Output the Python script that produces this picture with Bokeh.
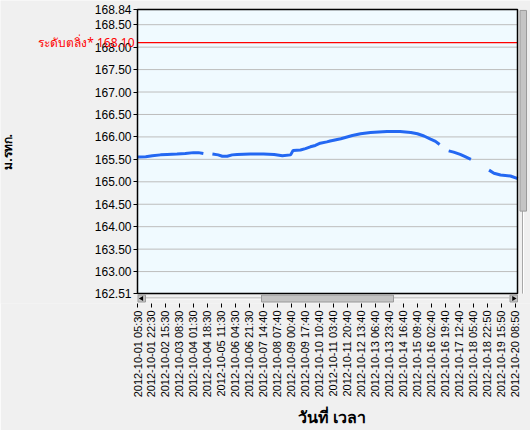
import math
from bokeh.plotting import figure
from bokeh.models import Range1d, FixedTicker, PrintfTickFormatter, Label, Title
from bokeh.embed import file_html
from bokeh.resources import INLINE

NaN = float("nan")

# ---------------- data ----------------
x_labels = [
    "2012-10-01 05:30", "2012-10-01 22:30", "2012-10-02 15:30", "2012-10-03 08:30",
    "2012-10-04 01:30", "2012-10-04 18:30", "2012-10-05 11:30", "2012-10-06 04:30",
    "2012-10-06 21:30", "2012-10-07 14:40", "2012-10-08 07:40", "2012-10-09 00:40",
    "2012-10-09 17:40", "2012-10-10 10:40", "2012-10-11 03:40", "2012-10-11 20:40",
    "2012-10-12 13:40", "2012-10-13 06:40", "2012-10-13 23:40", "2012-10-14 16:40",
    "2012-10-15 09:40", "2012-10-16 02:40", "2012-10-16 19:40", "2012-10-17 12:40",
    "2012-10-18 05:40", "2012-10-18 22:50", "2012-10-19 15:50", "2012-10-20 08:50",
]
label_step = 17          # readings between two labels
visible_points = 461.6   # readings shown in the scrolled window

hours = [0, 10, 18, 28, 36, 48, 58, 68, 74, 80, NaN,
         91, 98, 103, 109, 115, 121, 137, 153, 166, 176, 186, 189, 198, 204, 210,
         216, 222, 230, 234, 247, 261, 271, 283, 303, 319, 332, 340, 348, 356, 362,
         367, NaN,
         378, 384, 392, 398, 405, NaN,
         427, 433, 441, 453, 462]
levels = [165.55, 165.56, 165.58, 165.60, 165.61, 165.62, 165.63, 165.65, 165.65, 165.63, NaN,
          165.62, 165.60, 165.57, 165.57, 165.60, 165.61, 165.62, 165.62, 165.61, 165.58,
          165.60, 165.70, 165.71, 165.74, 165.78, 165.81, 165.86, 165.89, 165.91, 165.96,
          166.03, 166.07, 166.10, 166.12, 166.12, 166.10, 166.07, 166.02, 165.95, 165.90,
          165.83, NaN,
          165.69, 165.66, 165.61, 165.56, 165.50, NaN,
          165.26, 165.19, 165.15, 165.13, 165.07]

y_ticks = [168.84, 168.50, 168.00, 167.50, 167.00, 166.50, 166.00, 165.50,
           165.00, 164.50, 164.00, 163.50, 163.00, 162.51]
bank_level = 168.10
bank_text = "ระดับตลิ่ง* 168.10"
x_title = "วันที่ เวลา"
y_title = "ม.รทก."

# ---------------- layout ----------------
W, H = 530, 430
PL, PT = 137, 9     # left / top edge of plot area (px from canvas corner)
PLOT_H = 286        # cyan area height (px)
SCROLL_H = 10       # horizontal scrollbar height under plot (px)
FRAME_H = PT + PLOT_H + SCROLL_H
BB = H - FRAME_H
PLOT_W = 380        # cyan area width (px)
TITLE_X = 297       # left edge of x title (px)

y_top, y_bot = max(y_ticks), min(y_ticks)
upp = (y_top - y_bot) / PLOT_H            # value per px
xpp = visible_points / PLOT_W             # reading per px
x_start = -PL * xpp
x_end = (W - PL) * xpp
y_lo = y_bot - SCROLL_H * upp
y_hi = y_top + PT * upp

FONT = "Liberation Sans"
THAI = "Noto Sans"

p = figure(width=W, height=H, x_range=Range1d(x_start, x_end), y_range=Range1d(y_lo, y_hi),
           output_backend="svg", toolbar_location=None,
           min_border_left=0, min_border_right=0, min_border_top=0, min_border_bottom=BB)
p.border_fill_color = "#f0f0f0"
p.background_fill_color = "#f0f0f0"
p.outline_line_color = None
p.xgrid.visible = False
p.ygrid.visible = False

# plot area
p.quad(left=0, right=visible_points, bottom=y_bot, top=y_top,
       fill_color="#f0faff", line_color=None)
p.segment(x0=[0] * len(y_ticks), x1=[visible_points] * len(y_ticks),
          y0=y_ticks, y1=y_ticks, line_color="#bdbdbd", line_width=1)
p.segment(x0=[0], x1=[visible_points], y0=[bank_level], y1=[bank_level],
          line_color="#ff0000", line_width=1.2)
p.line(hours, levels, line_color="#2468f2", line_width=3)
p.quad(left=0, right=visible_points, bottom=y_bot, top=y_top,
       fill_color=None, line_color="#000000", line_width=1.5)

# horizontal scrollbar
def sy(d):
    return y_bot - d * upp

p.segment(x0=[8 * xpp], x1=[(PLOT_W - 8) * xpp], y0=[sy(4.5)], y1=[sy(4.5)],
          line_color="#a8a8a8", line_width=1)
p.segment(x0=[8 * xpp], x1=[(PLOT_W - 8) * xpp], y0=[sy(5.5)], y1=[sy(5.5)],
          line_color="#ffffff", line_width=1)
p.quad(left=[0.5 * xpp, 124 * xpp, (PLOT_W - 7.5) * xpp],
       right=[8 * xpp, 256 * xpp, PLOT_W * xpp],
       bottom=[sy(8.5)] * 3, top=[sy(1.5)] * 3,
       fill_color="#c4c4c4", line_color="#9a9a9a", line_width=1)
p.scatter(x=[4.2 * xpp], y=[sy(5)], marker="triangle", angle=math.pi / 2,
          size=5, fill_color="#000000", line_color=None)
p.scatter(x=[(PLOT_W - 3.8) * xpp], y=[sy(5)], marker="triangle", angle=-math.pi / 2,
          size=5, fill_color="#000000", line_color=None)

# vertical scrollbar (right)
p.segment(x0=[(PLOT_W + 5) * xpp], x1=[(PLOT_W + 5) * xpp],
          y0=[y_top - 200 * upp], y1=[y_bot], line_color="#a8a8a8", line_width=1)
p.segment(x0=[(PLOT_W + 6) * xpp], x1=[(PLOT_W + 6) * xpp],
          y0=[y_top - 200 * upp], y1=[y_bot], line_color="#ffffff", line_width=1)
p.quad(left=[(PLOT_W + 2.5) * xpp], right=[(PLOT_W + 9) * xpp],
       top=[y_top - 1 * upp], bottom=[y_top - 203 * upp],
       fill_color="#c4c4c4", line_color="#9a9a9a", line_width=1)

# axes
p.yaxis.fixed_location = 0
p.yaxis.ticker = FixedTicker(ticks=y_ticks)
p.yaxis.formatter = PrintfTickFormatter(format="%.2f")
p.yaxis.axis_line_color = None
p.yaxis.major_tick_in = 0
p.yaxis.major_tick_out = 4
p.yaxis.minor_tick_line_color = None
p.yaxis.major_tick_line_color = "#000000"
p.yaxis.major_label_standoff = 2
p.yaxis.major_label_text_font = FONT
p.yaxis.major_label_text_font_size = "12px"
p.yaxis.major_label_text_color = "#000000"
p.yaxis.axis_label = y_title
p.yaxis.axis_label_text_font = THAI
p.yaxis.axis_label_text_font_size = "12px"
p.yaxis.axis_label_text_font_style = "bold"
p.yaxis.axis_label_text_color = "#000000"
p.yaxis.axis_label_standoff = 76

x_ticks = [i * label_step for i in range(len(x_labels))]
p.xaxis.ticker = FixedTicker(ticks=x_ticks)
p.xaxis.major_label_overrides = {t: s for t, s in zip(x_ticks, x_labels)}
p.xaxis.major_label_orientation = math.pi / 2
p.xaxis.axis_line_color = None
p.xaxis.major_tick_in = 0
p.xaxis.major_tick_out = 4
p.xaxis.minor_tick_line_color = None
p.xaxis.major_tick_line_color = "#000000"
p.xaxis.major_label_standoff = 3
p.xaxis.major_label_text_font = FONT
p.xaxis.major_label_text_font_size = "11px"
p.xaxis.major_label_text_color = "#000000"

# x title under the plot area
p.add_layout(Title(text=x_title, align="left", offset=TITLE_X,
                   text_font=THAI, text_font_size="16px", text_font_style="bold",
                   text_color="#000000", standoff=6), "below")

# bank level label
p.add_layout(Label(x=0, y=bank_level, x_offset=-3, text=bank_text,
                   text_align="right", text_baseline="middle",
                   text_font=THAI, text_font_size="12px", text_color="#ff0000"))

open("out.html", "w").write(file_html(p, INLINE))
